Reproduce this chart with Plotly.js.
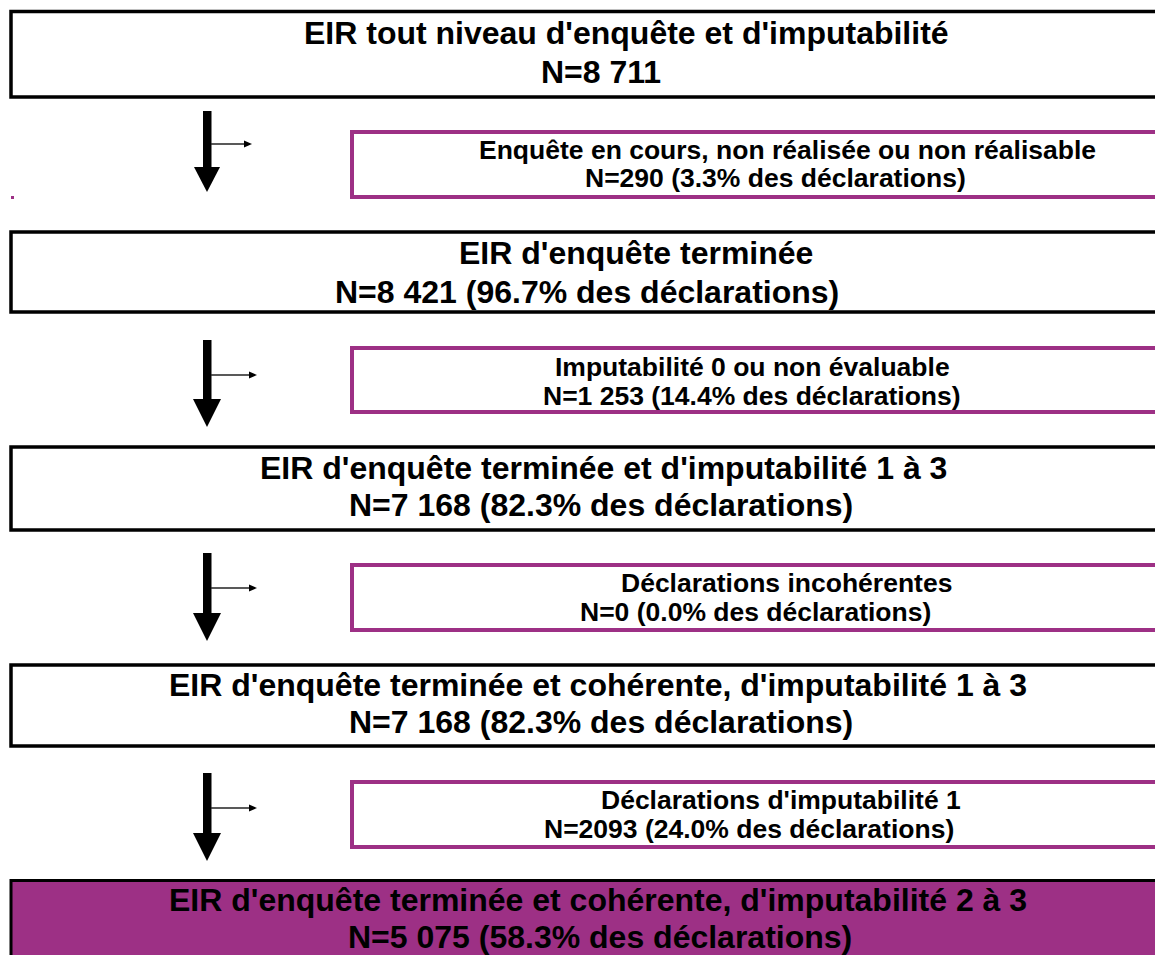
<!DOCTYPE html>
<html>
<head>
<meta charset="utf-8">
<script src="https://cdn.plot.ly/plotly-3.0.1.min.js"></script>
<style>
  html, body { margin: 0; padding: 0; background: #ffffff; }
  #chart { width: 1155px; height: 955px; }
</style>
</head>
<body>
<div id="chart"></div>
<script>
// ---------- DATA ----------
const mainLabels = [
  "EIR tout niveau d'enquête et d'imputabilité",
  "EIR d'enquête terminée",
  "EIR d'enquête terminée et d'imputabilité 1 à 3",
  "EIR d'enquête terminée et cohérente, d'imputabilité 1 à 3",
  "EIR d'enquête terminée et cohérente, d'imputabilité 2 à 3"
];
const mainCounts = ["8 711", "8 421", "7 168", "7 168", "5 075"];
const mainPcts = [null, "96.7", "82.3", "82.3", "58.3"];

const exclLabels = [
  "Enquête en cours, non réalisée ou non réalisable",
  "Imputabilité 0 ou non évaluable",
  "Déclarations incohérentes",
  "Déclarations d'imputabilité 1"
];
const exclCounts = ["290", "1 253", "0", "2093"];
const exclPcts = ["3.3", "14.4", "0.0", "24.0"];

// ---------- LAYOUT GEOMETRY ----------
const W = 1155, H = 955;
const PURPLE = "#9d3085";
const FONT = "'Liberation Sans', Arial, sans-serif";

const mainTop = [11.5, 232, 447, 665, 880.5];
const mainBottom = [97, 312, 530, 746, 975];
const mainL1Y = [33, 253, 468, 685, 900];
const mainL2Y = [72, 292, 505, 722, 937];
const mainL1X = [626, 636, 603, 598, 598];
const mainL2X = [601, 587, 601, 601, 600];

const exclTop = [132, 348, 565, 782];
const exclBottom = [197, 412, 630, 847];
const exclL1Y = [150, 367, 583, 800];
const exclL2Y = [178, 396, 612, 829];
const exclL1X = [787, 752, 786, 781];
const exclL2X = [775, 752, 755, 749];

const shaftTop = [111, 340, 553, 773];
const headTop = [167, 399, 613, 833];
const headBottom = [192, 427, 641, 861];
const branchY = [144, 375, 588, 808];

const shapes = [];
const annotations = [];

function ann(x, y, text, size) {
  annotations.push({
    x: x, y: y, xref: "x", yref: "y", text: "<b>" + text + "</b>", showarrow: false,
    xanchor: "center", yanchor: "middle",
    font: { family: FONT, size: size, color: "#000000" }
  });
}

// main boxes
mainLabels.forEach((lab, i) => {
  const last = i === mainLabels.length - 1;
  shapes.push({
    type: "rect", xref: "x", yref: "y",
    x0: 11, x1: 1175, y0: mainTop[i], y1: mainBottom[i],
    line: { color: "#000000", width: last ? 3 : 3.5 },
    fillcolor: last ? PURPLE : "rgba(255,255,255,0)"
  });
  ann(mainL1X[i], mainL1Y[i], lab, 32);
  const l2 = mainPcts[i] === null ? "N=" + mainCounts[i]
    : "N=" + mainCounts[i] + " (" + mainPcts[i] + "% des déclarations)";
  ann(mainL2X[i], mainL2Y[i], l2, 32);
});

// excluded boxes
exclLabels.forEach((lab, i) => {
  shapes.push({
    type: "rect", xref: "x", yref: "y",
    x0: 352, x1: 1175, y0: exclTop[i], y1: exclBottom[i],
    line: { color: PURPLE, width: 4 },
    fillcolor: "rgba(255,255,255,0)"
  });
  ann(exclL1X[i], exclL1Y[i], lab, 26.5);
  ann(exclL2X[i], exclL2Y[i], "N=" + exclCounts[i] + " (" + exclPcts[i] + "% des déclarations)", 26.5);
});

// arrows
shaftTop.forEach((t, i) => {
  shapes.push({
    type: "rect", xref: "x", yref: "y",
    x0: 203, x1: 211.5, y0: t, y1: headTop[i] + 1,
    line: { width: 0 }, fillcolor: "#000000"
  });
  const hw = i === 0 ? 13 : 14;
  shapes.push({
    type: "path", xref: "x", yref: "y",
    path: "M " + (207 - hw) + " " + headTop[i] + " L " + (207 + hw) + " " + headTop[i] +
          " L 207 " + headBottom[i] + " Z",
    line: { width: 0 }, fillcolor: "#000000"
  });
  const bx1 = i === 0 ? 252 : 257;
  shapes.push({
    type: "line", xref: "x", yref: "y",
    x0: 211, x1: bx1 - 6, y0: branchY[i], y1: branchY[i],
    line: { color: "#222222", width: 1.3 }
  });
  shapes.push({
    type: "path", xref: "x", yref: "y",
    path: "M " + (bx1 - 8) + " " + (branchY[i] - 3.5) + " L " + bx1 + " " + branchY[i] +
          " L " + (bx1 - 8) + " " + (branchY[i] + 3.5) + " Z",
    line: { width: 0 }, fillcolor: "#000000"
  });
});

// small purple speck
shapes.push({
  type: "rect", xref: "x", yref: "y",
  x0: 11, x1: 14, y0: 196, y1: 199,
  line: { width: 0 }, fillcolor: PURPLE
});

const layout = {
  width: W, height: H,
  margin: { l: 0, r: 0, t: 0, b: 0, pad: 0 },
  paper_bgcolor: "#ffffff", plot_bgcolor: "#ffffff",
  showlegend: false,
  font: { family: FONT },
  xaxis: { range: [0, W], visible: false, fixedrange: true },
  yaxis: { range: [H, 0], visible: false, fixedrange: true },
  shapes: shapes,
  annotations: annotations
};

Plotly.newPlot("chart", [], layout, { displayModeBar: false, staticPlot: true });
</script>
</body>
</html>
